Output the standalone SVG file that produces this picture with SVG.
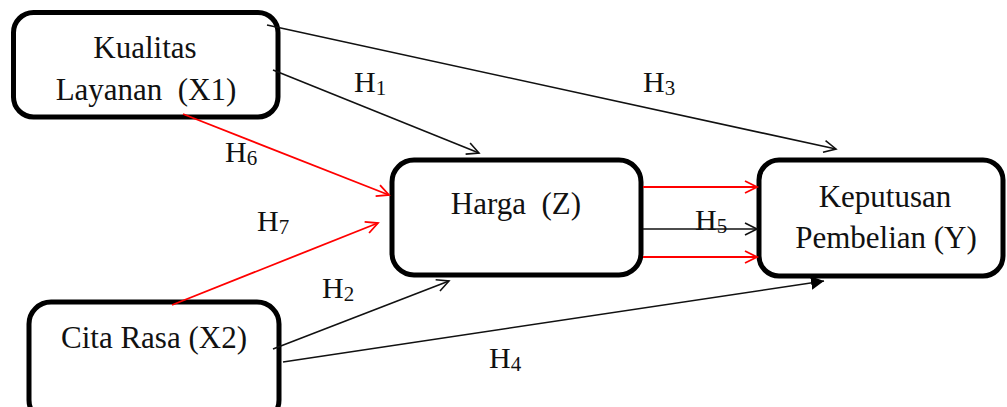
<svg xmlns="http://www.w3.org/2000/svg" width="1007" height="407" viewBox="0 0 1007 407">
<style>
.box{fill:#fff;stroke:#000;stroke-width:5}
.t{font-family:"Liberation Serif","Times New Roman",serif;font-size:31px;fill:#111;text-anchor:middle}
.lbl{font-family:"Liberation Serif","Times New Roman",serif;font-size:30px;fill:#111}
.sub{font-size:21px}
.k{stroke:#111;stroke-width:1.6;fill:none}
.r{stroke:#ff0000;stroke-width:1.8;fill:none}
</style>
<defs>
<marker id="ak" markerUnits="userSpaceOnUse" markerWidth="16" markerHeight="16" refX="13" refY="7" orient="auto" viewBox="0 0 16 14">
<path d="M1,1 L13,7 L1,13" fill="none" stroke="#111" stroke-width="1.6"/>
</marker>
<marker id="ar" markerUnits="userSpaceOnUse" markerWidth="16" markerHeight="16" refX="13" refY="7" orient="auto" viewBox="0 0 16 14">
<path d="M1,1 L13,7 L1,13" fill="none" stroke="#ff0000" stroke-width="1.8"/>
</marker>
<marker id="af" markerUnits="userSpaceOnUse" markerWidth="14" markerHeight="16" refX="13" refY="8" orient="auto" viewBox="0 0 14 16">
<path d="M0,1 L13,8 L0,15 Z" fill="#000"/>
</marker>
</defs>
<g id="X1">
<rect class="box" x="13.5" y="12.5" width="264.5" height="104.5" rx="20"/>
<text class="t" x="145" y="58">Kualitas</text>
<text class="t" x="146" y="100" xml:space="preserve">Layanan  (X1)</text>
</g>
<g id="Z">
<rect class="box" x="392" y="160" width="249" height="115" rx="22"/>
<text class="t" x="516" y="214" xml:space="preserve">Harga  (Z)</text>
</g>
<g id="Y">
<rect class="box" x="759" y="160" width="244" height="116" rx="20"/>
<text class="t" x="885" y="207">Keputusan</text>
<text class="t" x="886" y="248">Pembelian (Y)</text>
</g>
<g id="X2">
<rect class="box" x="29" y="302" width="250" height="120" rx="22"/>
<text class="t" x="154" y="348">Cita Rasa (X2)</text>
</g>
<g id="connectors">
<line class="k" x1="267" y1="25" x2="836" y2="149" marker-end="url(#ak)"/>
<line class="k" x1="273" y1="70" x2="479" y2="153" marker-end="url(#ak)"/>
<line class="r" x1="183" y1="114" x2="389" y2="195" marker-end="url(#ar)"/>
<line class="r" x1="172" y1="305" x2="378" y2="223" marker-end="url(#ar)"/>
<line class="k" x1="273" y1="349" x2="449" y2="281" marker-end="url(#ak)"/>
<line class="k" x1="283" y1="362" x2="824" y2="281" marker-end="url(#af)"/>
<line class="r" x1="643" y1="187" x2="757" y2="187" marker-end="url(#ar)"/>
<line class="k" x1="643" y1="229" x2="757" y2="229" marker-end="url(#ak)"/>
<line class="r" x1="643" y1="257" x2="757" y2="257" marker-end="url(#ar)"/>
</g>
<g id="labels">
<text class="lbl" x="354" y="92">H<tspan class="sub" dy="3">1</tspan></text>
<text class="lbl" x="643" y="92">H<tspan class="sub" dy="3">3</tspan></text>
<text class="lbl" x="225" y="162">H<tspan class="sub" dy="3">6</tspan></text>
<text class="lbl" x="257" y="231">H<tspan class="sub" dy="3">7</tspan></text>
<text class="lbl" x="322" y="298">H<tspan class="sub" dy="3">2</tspan></text>
<text class="lbl" x="489" y="368">H<tspan class="sub" dy="3">4</tspan></text>
<text class="lbl" x="695" y="230">H<tspan class="sub" dy="3">5</tspan></text>
</g>
</svg>
